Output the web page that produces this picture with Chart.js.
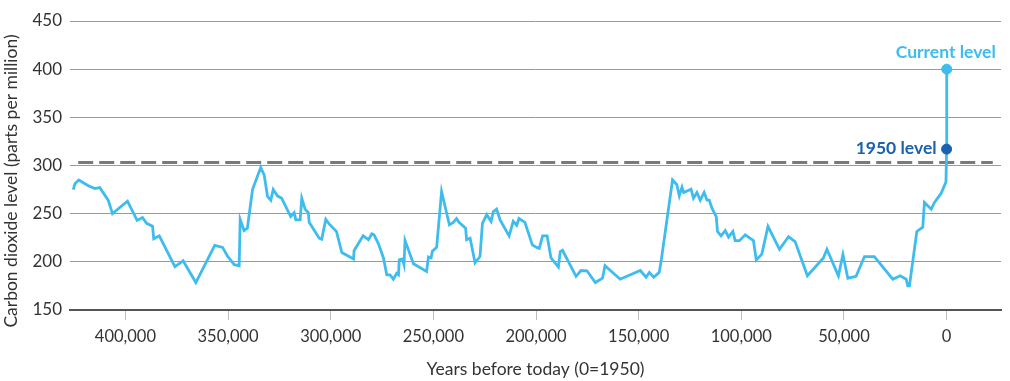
<!DOCTYPE html>
<html>
<head>
<meta charset="utf-8">
<script src="https://cdn.jsdelivr.net/npm/chart.js@4/dist/chart.umd.min.js"></script>
<style>
  html, body { margin: 0; padding: 0; background: #ffffff; }
  #wrap { width: 1010px; height: 381px; position: relative; }
</style>
</head>
<body>
<div id="wrap"><canvas id="c" width="1010" height="381"></canvas></div>
<script>
// Years before 1950 (positive = past), CO2 in ppm
const years = [
  425400, 424600, 422700, 418100, 414900, 412500, 408400, 406300, 399000, 394300,
  391700, 389700, 386800, 386200, 383500, 375900, 371900, 365700, 356500, 352700,
  350300, 347000, 344600, 344100, 342200, 340600, 338100, 334100, 332400, 330800,
  329200, 328000, 326000, 323900, 319500, 317800, 317000, 314900, 314100, 312500,
  310900, 310500, 305600, 304400, 302400, 300800, 297200, 294600, 288900, 288600,
  284200, 281600, 280000, 278900, 276800, 274300, 272700, 271100, 269500, 267900,
  267000, 266600, 265100, 264300, 263800, 259700, 253300, 252400, 251100, 250500,
  248400, 246000, 242200, 240300, 238700, 237500, 234300, 233800, 232100, 229700,
  227300, 226100, 224000, 221900, 220800, 219200, 217500, 213100, 211100, 209400,
  208300, 205400, 201800, 199700, 198400, 196800, 194600, 192700, 189100, 188200,
  187100, 180500, 178100, 175200, 171100, 167600, 166400, 159000, 149200, 146400,
  144800, 142700, 140000, 139100, 133500, 131400, 130200, 128900, 128100, 124500,
  123300, 121600, 120000, 118100, 116700, 115600, 114300, 112200, 111600, 109900,
  107800, 106200, 104100, 103000, 100900, 98100, 94100, 92700, 90000, 87000,
  81400, 77000, 73800, 67800, 60000, 58300, 52700, 50500, 48100, 44100,
  40000, 35200, 26200, 22600, 19700, 18900, 18100, 14500, 11600, 10800,
  7500, 5900, 2700, 300, 0, -70
];
const co2 = [
  275, 281, 285, 279, 276, 277, 264, 250, 263, 243,
  246, 240, 237, 224, 227, 195, 201, 178.5, 217, 215,
  206, 197, 196, 244, 232.5, 235, 275, 298, 290, 268,
  264, 275, 268.5, 266, 247, 251, 243.6, 243.6, 266, 254.7,
  251, 241, 224.6, 223.5, 244, 239.4, 231.5, 209.7, 203, 211.8,
  227, 223, 229, 228, 219, 204, 186.5, 186.5, 182, 188,
  186.5, 202, 203, 197, 222, 198, 190, 205, 204, 211,
  215, 273, 238.4, 241, 245, 241, 235, 223, 224.6, 199,
  205.5, 240, 249, 242, 252, 254.7, 243.6, 227, 242, 238,
  245, 241, 217.6, 215, 214, 227, 227, 204, 194.5, 210.7,
  212, 185, 191, 190.7, 178.5, 183, 196, 182, 191, 184,
  189, 184, 189, 200, 285, 280, 268.5, 277.5, 272, 275.4,
  266, 272, 264, 272, 264, 264, 255.7, 247, 231.5, 227,
  232.5, 225.6, 231.5, 222, 222, 228, 222, 202, 208, 236.7,
  213, 226, 221, 185.5, 204, 213, 185.5, 207.6, 183, 185,
  205.5, 205.5, 182, 185.5, 182, 175, 175, 231.5, 236, 261.6,
  254.7, 261.6, 271, 283, 317, 400
];
// Reference (dashed) level
const refLevel = 303;
const refSpan = [423000, -22500];
// Highlighted points
const level1950 = { year: 0, value: 317, label: "1950 level" };
const levelNow = { year: -70, value: 400, label: "Current level" };
// Axis ticks
const xTicks = [0, 50000, 100000, 150000, 200000, 250000, 300000, 350000, 400000];
const yTicks = [150, 200, 250, 300, 350, 400, 450];
const xRange = [-26500, 427000];
const yRange = [150, 450];

const FONT = "Lato, 'Open Sans', sans-serif";
const LIGHT = "#3fbcee";
const DARK = "#1a62ad";

const mainData = years.map((y, i) => ({ x: y, y: co2[i] }));

const labelsPlugin = {
  id: "annotLabels",
  afterDatasetsDraw(chart) {
    const ctx = chart.ctx;
    const xs = chart.scales.x, ys = chart.scales.y;
    ctx.save();
    ctx.font = "bold 17.5px " + FONT;
    ctx.textBaseline = "middle";
    // Current level
    ctx.fillStyle = LIGHT;
    ctx.textAlign = "center";
    ctx.fillText(levelNow.label, xs.getPixelForValue(levelNow.year) - 1, ys.getPixelForValue(levelNow.value) - 17);
    // 1950 level
    ctx.fillStyle = DARK;
    ctx.textAlign = "right";
    ctx.fillText(level1950.label, xs.getPixelForValue(level1950.year) - 10, ys.getPixelForValue(level1950.value) - 1);
    // Y axis title
    ctx.fillStyle = "#333333";
    ctx.font = "17.5px " + FONT;
    ctx.textAlign = "center";
    ctx.translate(11, 181);
    ctx.rotate(-Math.PI / 2);
    ctx.fillText("Carbon dioxide level (parts per million)", 0, 0);
    ctx.restore();
  }
};

new Chart(document.getElementById("c"), {
  type: "line",
  data: {
    datasets: [
      {
        data: [level1950].map(p => ({ x: p.year, y: p.value })),
        showLine: false,
        pointRadius: 5,
        pointBackgroundColor: DARK,
        pointBorderColor: DARK,
        order: 0
      },
      {
        data: [levelNow].map(p => ({ x: p.year, y: p.value })),
        showLine: false,
        pointRadius: 5,
        pointBackgroundColor: LIGHT,
        pointBorderColor: LIGHT,
        order: 1
      },
      {
        data: mainData,
        borderColor: LIGHT,
        borderWidth: 2.8,
        pointRadius: 0,
        tension: 0,
        fill: false,
        order: 2
      },
      {
        data: refSpan.map(x => ({ x: x, y: refLevel })),
        borderColor: "#7a7a7a",
        borderWidth: 3,
        borderDash: [15, 6],
        pointRadius: 0,
        fill: false,
        order: 3
      }
    ]
  },
  options: {
    responsive: false,
    animation: false,
    events: [],
    layout: { padding: { top: 21, right: 9, left: 0, bottom: 0 } },
    plugins: {
      legend: { display: false },
      tooltip: { enabled: false }
    },
    scales: {
      x: {
        type: "linear",
        reverse: true,
        min: xRange[0],
        max: xRange[1],
        afterBuildTicks(scale) { scale.ticks = xTicks.map(v => ({ value: v })); },
        afterFit(scale) { scale.height = 71; },
        ticks: {
          callback: v => v.toLocaleString("en-US"),
          color: "#333333",
          font: { family: FONT, size: 16.5 },
          padding: 7,
          maxRotation: 0,
          autoSkip: false
        },
        grid: {
          drawOnChartArea: false,
          drawTicks: true,
          tickLength: 10,
          color: "#bdbdbd",
          lineWidth: 1
        },
        border: { display: true, color: "#555555", width: 2 },
        title: {
          display: true,
          text: "Years before today (0=1950)",
          color: "#333333",
          font: { family: FONT, size: 17.5 },
          padding: { top: 0, bottom: 1 }
        }
      },
      y: {
        min: yRange[0],
        max: yRange[1],
        afterBuildTicks(scale) { scale.ticks = yTicks.map(v => ({ value: v })); },
        afterFit(scale) { scale.width = 70; },
        ticks: {
          color: "#333333",
          font: { family: FONT, size: 17 },
          padding: 8
        },
        grid: {
          color: "#9a9a9a",
          lineWidth: 1,
          drawTicks: false
        },
        border: { display: false }
      }
    }
  },
  plugins: [labelsPlugin]
});
</script>
</body>
</html>
